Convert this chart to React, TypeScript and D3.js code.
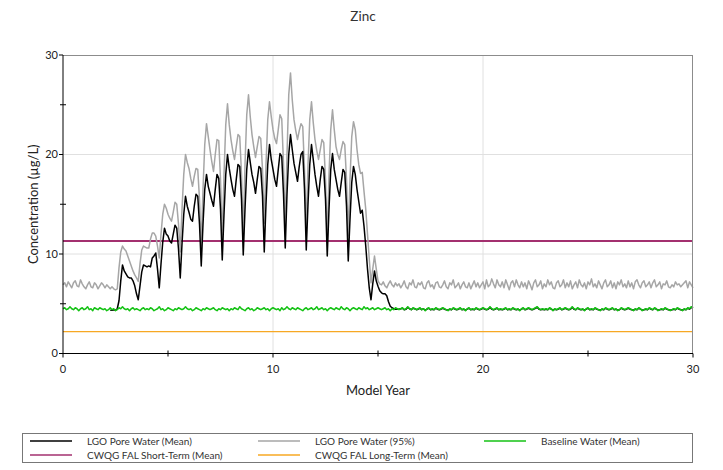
import React from 'react';
import * as d3 from 'd3';

const title = 'Zinc';
const xLabel = 'Model Year';
const yLabel = 'Concentration (µg/L)';
const xTicks = [0, 10, 20, 30];
const xMinorTicks = [5, 15, 25];
const yTicks = [0, 10, 20, 30];
const yMinorTicks = [5, 15, 25];
const monthsPerYear = 12;

// LGO Pore Water (Mean), monthly from year 0 (null = not shown)
const lgoMean: (number | null)[] = [
  null, null, null, null, null, null, null, null, null, null, null, null,
  null, null, null, null, null, null, null, null, null, null, null, null,
  null, null, null, 4.35, 4.35, 4.4, 4.35, 4.5, 5.3, 7.3, 8.9, 8.3,
  8.0, 7.7, 7.6, 7.6, 7.3, 6.8, 6.0, 5.4, 6.8, 8.2, 8.9, 8.8,
  8.7, 8.8, 8.7, 9.6, 9.8, 10.1, 8.5, 6.6, 9.0, 11.2, 12.6, 12.0,
  11.8, 11.3, 11.1, 12.0, 12.9, 12.6, 10.5, 7.6, 11.0, 14.0, 15.8, 14.8,
  14.2, 13.5, 13.3, 14.8, 16.0, 15.8, 13.0, 8.8, 13.0, 16.5, 18.0, 16.8,
  16.1, 15.4, 14.8, 16.5, 18.0, 17.6, 14.5, 9.4, 14.0, 18.0, 20.0, 18.6,
  17.5, 16.5, 15.8, 17.5, 19.0, 18.8, 15.5, 9.9, 14.5, 18.5, 20.5, 19.2,
  18.0, 17.2, 16.1, 17.5, 18.8, 18.6, 15.8, 10.2, 15.0, 19.0, 21.0, 19.5,
  18.5, 17.5, 16.8, 18.5, 20.1, 19.8, 16.0, 10.6, 16.0, 20.0, 22.0, 20.5,
  19.1, 18.2, 17.3, 18.8, 20.0, 20.3, 16.5, 10.4, 15.0, 19.0, 21.0, 19.5,
  18.0, 16.8, 15.8, 17.5, 18.8, 18.5, 15.5, 9.8, 14.5, 18.5, 20.1, 18.5,
  17.5, 16.5, 15.8, 17.2, 18.5, 18.2, 14.8, 9.3, 13.5, 17.2, 18.8, 18.0,
  16.5, 15.3, 14.1, 14.4, 12.8, 10.8, 8.5, 6.6, 5.4, 7.0, 8.3, 7.3,
  6.75, 6.3, 6.1, 6.0, 6.0, 5.8, 5.2, 4.75, 4.6, 4.5, 4.45, 4.45,
  4.45, 4.5, 4.55, 4.4, 4.45, 4.65, 4.5, 4.4, 4.55, 4.5, 4.4, 4.45,
  4.55, 4.4, 4.5, 4.35, 4.45, 4.55, 4.4, 4.45, 4.4, 4.55, 4.45, 4.4,
  4.45, 4.55, 4.45, 4.4, 4.35, 4.45, 4.4, 4.55, 4.45, 4.4, 4.45, 4.55,
  4.4, 4.45, 4.35, 4.45, 4.55, 4.4, 4.45, 4.4, 4.55, 4.45, 4.4, 4.45,
  4.55, 4.45, 4.4, 4.45, 4.65, 4.45, 4.4, 4.45, 4.55, 4.4, 4.45, 4.4,
  4.45, 4.55, 4.4, 4.45, 4.4, 4.55, 4.45, 4.4, 4.45, 4.35, 4.45, 4.55,
  4.4, 4.45, 4.55, 4.45, 4.4, 4.45, 4.55, 4.65, 4.45, 4.4, 4.45, 4.4,
  4.45, 4.4, 4.55, 4.45, 4.35, 4.45, 4.4, 4.45, 4.55, 4.4, 4.45, 4.55,
  4.45, 4.4, 4.45, 4.65, 4.45, 4.4, 4.55, 4.45, 4.4, 4.45, 4.35, 4.45,
  4.55, 4.4, 4.45, 4.4, 4.55, 4.45, 4.4, 4.35, 4.45, 4.4, 4.55, 4.45,
  4.4, 4.45, 4.55, 4.4, 4.45, 4.35, 4.4, 4.55, 4.45, 4.4, 4.45, 4.55,
  4.45, 4.4, 4.35, 4.45, 4.4, 4.55, 4.45, 4.35, 4.4, 4.45, 4.4, 4.55,
  4.45, 4.4, 4.55, 4.45, 4.35, 4.4, 4.45, 4.4, 4.55, 4.45, 4.4, 4.35,
  4.4, 4.45, 4.4, 4.55, 4.45, 4.4, 4.35, 4.45, 4.4, 4.55, 4.45, 4.65,
  4.55,
];

// LGO Pore Water (95%), monthly from year 0
const lgo95: number[] = [
  6.9, 7.1, 6.7, 7.2, 6.9, 6.6, 7.1, 7.3, 6.8, 6.7, 7.4, 7.0,
  6.7, 6.5, 6.9, 7.2, 6.7, 6.6, 7.1, 6.9, 6.5, 6.8, 7.1, 6.9,
  6.6, 6.9, 6.7, 6.5, 6.7, 6.5, 6.4, 6.5, 8.6, 10.2, 10.8, 10.5,
  10.3, 9.8, 9.3, 8.8, 8.3, 7.9, 7.6, 7.25, 9.0, 10.4, 10.8, 10.7,
  10.6, 10.6, 11.5, 12.1, 12.1, 11.8, 10.8, 9.6, 12.0, 14.0, 15.0, 14.6,
  14.0, 13.6, 13.3, 14.2, 15.2, 15.0, 13.0, 10.2, 14.5, 18.0, 20.0, 19.2,
  18.6, 17.6, 16.8, 17.8, 18.6, 18.5, 15.5, 10.8, 16.5, 21.0, 23.1, 21.8,
  20.5, 19.3, 18.3, 20.0, 21.5, 21.4, 17.5, 11.4, 18.0, 23.0, 25.1, 23.0,
  21.5, 20.4, 19.5, 20.8, 22.0, 21.8, 18.0, 12.1, 19.0, 24.0, 26.0, 23.8,
  22.0, 20.8, 19.7, 20.8, 21.8, 21.6, 18.5, 13.1, 19.0, 23.5, 25.3, 23.8,
  22.5, 21.6, 21.1, 22.5, 24.0, 23.6, 19.0, 12.8, 20.0, 26.0, 28.2, 25.5,
  23.5, 22.4, 21.5, 22.4, 23.1, 22.8, 18.5, 12.4, 19.0, 23.5, 25.3, 23.2,
  21.5, 20.4, 19.5, 20.5, 21.5, 21.2, 17.5, 11.4, 18.0, 22.5, 24.5, 22.5,
  20.8, 20.0, 19.5, 20.5, 21.3, 21.0, 17.5, 11.8, 17.5, 21.8, 23.3, 22.5,
  20.5, 19.0, 18.1, 18.2, 16.3, 14.5, 12.0, 9.5, 7.1, 8.5, 9.8, 8.5,
  7.3, 7.0, 6.9, 7.2, 6.8, 6.6, 7.0, 7.3, 6.9, 6.7, 7.1, 6.8,
  7.0, 6.6, 6.9, 7.3, 6.7, 6.5, 7.1, 6.9, 7.4, 6.7, 6.6, 7.1,
  6.9, 7.2, 6.6, 6.5, 7.1, 7.3, 6.7, 6.9, 6.5, 7.1, 7.2, 6.7,
  6.6, 6.9, 7.3, 6.7, 6.5, 7.1, 6.9, 7.4, 6.6, 6.8, 7.1, 6.5,
  6.9, 7.2, 6.7, 6.6, 7.1, 6.5, 6.9, 7.3, 6.7, 7.1, 6.6, 6.9,
  7.2, 6.5, 7.4, 6.7, 6.9, 7.5, 7.0, 6.6, 7.4, 6.9, 6.7, 7.2,
  6.6, 7.4, 6.9, 6.4, 7.1, 7.3, 6.7, 7.4, 6.9, 6.6, 7.2, 6.7,
  7.1, 6.5, 7.3, 6.9, 6.4, 7.1, 7.4, 6.7, 6.9, 7.3, 6.5, 7.0,
  6.7, 7.4, 6.9, 7.2, 6.6, 6.5, 7.1, 7.3, 6.7, 6.9, 7.4, 6.6,
  7.1, 6.7, 7.3, 6.5, 6.9, 7.2, 6.6, 7.4, 6.9, 6.7, 7.1, 6.5,
  7.2, 6.9, 7.5, 6.7, 7.0, 6.6, 7.3, 6.9, 6.5, 7.1, 7.4, 6.7,
  6.9, 7.3, 6.6, 7.1, 6.5, 7.2, 6.9, 7.4, 6.7, 7.0, 6.6, 7.3,
  6.7, 7.1, 6.5, 7.2, 7.4, 6.9, 6.6, 7.1, 7.3, 6.7, 6.9, 7.2,
  6.6, 7.1, 7.4, 6.7, 6.9, 7.2, 6.5, 7.0, 6.9, 7.3, 6.7, 6.6,
  6.9, 6.7, 7.2, 6.9, 7.0, 6.7, 6.9, 7.1, 7.3, 6.6, 7.2, 6.9,
  6.6,
];

// Baseline Water (Mean), monthly from year 0
const baseline: number[] = [
  4.5, 4.6, 4.4, 4.5, 4.7, 4.5, 4.4, 4.6, 4.5, 4.3, 4.5, 4.6,
  4.4, 4.5, 4.7, 4.4, 4.5, 4.3, 4.6, 4.5, 4.4, 4.6, 4.5, 4.4,
  4.5, 4.3, 4.4, 4.6, 4.4, 4.5, 4.3, 4.4, 4.6, 4.5, 4.7, 4.5,
  4.4, 4.5, 4.3, 4.5, 4.6, 4.4, 4.5, 4.4, 4.3, 4.5, 4.6, 4.4,
  4.5, 4.4, 4.6, 4.5, 4.3, 4.4, 4.5, 4.7, 4.4, 4.5, 4.3, 4.4,
  4.6, 4.5, 4.4, 4.3, 4.5, 4.4, 4.6, 4.5, 4.4, 4.5, 4.7, 4.5,
  4.4, 4.5, 4.3, 4.4, 4.6, 4.5, 4.4, 4.3, 4.5, 4.4, 4.6, 4.5,
  4.4, 4.5, 4.6, 4.4, 4.3, 4.5, 4.4, 4.6, 4.5, 4.4, 4.5, 4.3,
  4.5, 4.4, 4.6, 4.5, 4.4, 4.7, 4.5, 4.4, 4.3, 4.5, 4.6, 4.4,
  4.5, 4.3, 4.4, 4.6, 4.5, 4.4, 4.5, 4.6, 4.4, 4.5, 4.3, 4.5,
  4.6, 4.5, 4.4, 4.5, 4.3, 4.6, 4.4, 4.5, 4.7, 4.5, 4.4, 4.6,
  4.5, 4.4, 4.6, 4.5, 4.4, 4.3, 4.5, 4.6, 4.4, 4.5, 4.6, 4.4,
  4.5, 4.7, 4.4, 4.5, 4.6, 4.4, 4.5, 4.3, 4.5, 4.6, 4.5, 4.4,
  4.6, 4.5, 4.4, 4.7, 4.5, 4.4, 4.6, 4.5, 4.3, 4.5, 4.6, 4.5,
  4.4, 4.6, 4.5, 4.4, 4.7, 4.5, 4.6, 4.4, 4.5, 4.6, 4.4, 4.5,
  4.6, 4.5, 4.4, 4.5, 4.6, 4.4, 4.5, 4.3, 4.5, 4.4, 4.6, 4.5,
  4.4, 4.5, 4.6, 4.4, 4.5, 4.7, 4.5, 4.4, 4.6, 4.5, 4.4, 4.5,
  4.6, 4.4, 4.5, 4.3, 4.5, 4.6, 4.4, 4.5, 4.4, 4.6, 4.5, 4.4,
  4.5, 4.6, 4.5, 4.4, 4.3, 4.5, 4.4, 4.6, 4.5, 4.4, 4.5, 4.6,
  4.4, 4.5, 4.3, 4.5, 4.6, 4.4, 4.5, 4.4, 4.6, 4.5, 4.4, 4.5,
  4.6, 4.5, 4.4, 4.5, 4.7, 4.5, 4.4, 4.5, 4.6, 4.4, 4.5, 4.4,
  4.5, 4.6, 4.4, 4.5, 4.4, 4.6, 4.5, 4.4, 4.5, 4.3, 4.5, 4.6,
  4.4, 4.5, 4.6, 4.5, 4.4, 4.5, 4.6, 4.7, 4.5, 4.4, 4.5, 4.4,
  4.5, 4.4, 4.6, 4.5, 4.3, 4.5, 4.4, 4.5, 4.6, 4.4, 4.5, 4.6,
  4.5, 4.4, 4.5, 4.7, 4.5, 4.4, 4.6, 4.5, 4.4, 4.5, 4.3, 4.5,
  4.6, 4.4, 4.5, 4.4, 4.6, 4.5, 4.4, 4.3, 4.5, 4.4, 4.6, 4.5,
  4.4, 4.5, 4.6, 4.4, 4.5, 4.3, 4.4, 4.6, 4.5, 4.4, 4.5, 4.6,
  4.5, 4.4, 4.3, 4.5, 4.4, 4.6, 4.5, 4.3, 4.4, 4.5, 4.4, 4.6,
  4.5, 4.4, 4.6, 4.5, 4.3, 4.4, 4.5, 4.4, 4.6, 4.5, 4.4, 4.3,
  4.4, 4.5, 4.4, 4.6, 4.5, 4.4, 4.3, 4.5, 4.4, 4.6, 4.5, 4.7,
  4.6,
];

const shortTermGuideline = 11.3;
const longTermGuideline = 2.2;

const legendLabels = [
  'LGO Pore Water (Mean)',
  'LGO Pore Water (95%)',
  'Baseline Water (Mean)',
  'CWQG FAL Short-Term (Mean)',
  'CWQG FAL Long-Term (Mean)',
];
const seriesColors = ['#000000', '#a6a6a6', '#14c214', '#a3306f', '#f7a823'];

const W = 723;
const H = 470;
const FONT = 'Lato, "Open Sans", sans-serif';

type Pt = [number, number | null];

export default function App() {
  const m = { left: 63, right: 30, top: 55, bottom: 116.5 };
  const x = d3.scaleLinear().domain([0, 30]).range([m.left, W - m.right]);
  const y = d3.scaleLinear().domain([0, 30]).range([H - m.bottom, m.top]);

  const toPts = (arr: (number | null)[]): Pt[] => arr.map((v, i) => [i / monthsPerYear, v]);
  const line = d3
    .line<Pt>()
    .defined((d) => d[1] != null)
    .x((d) => x(d[0]))
    .y((d) => y(d[1] as number));

  const [x0, x1] = x.range();
  const [yb, yt] = y.range();

  const legendCols = [30, 258, 484];
  const legendRows = [441, 455];

  return (
    <svg width={W} height={H} style={{ position: 'absolute', left: 0, top: 0, background: '#fff' }} fontFamily={FONT}>
      <rect x={0} y={0} width={W} height={H} fill="#fff" />
      <text x={363} y={21} textAnchor="middle" fontSize={13.5} fill="#333">{title}</text>

      {[10, 20].map((v) => (
        <line key={'gx' + v} x1={x(v)} x2={x(v)} y1={yt} y2={yb} stroke="#e0e0e0" strokeWidth={1} />
      ))}
      {[10, 20].map((v) => (
        <line key={'gy' + v} x1={x0} x2={x1} y1={y(v)} y2={y(v)} stroke="#e0e0e0" strokeWidth={1} />
      ))}

      <line x1={x(0)} x2={x(30)} y1={y(shortTermGuideline)} y2={y(shortTermGuideline)} stroke={seriesColors[3]} strokeWidth={2} />
      <line x1={x(0)} x2={x(30)} y1={y(longTermGuideline)} y2={y(longTermGuideline)} stroke={seriesColors[4]} strokeWidth={1.4} />

      <path d={line(toPts(lgo95)) || ''} fill="none" stroke={seriesColors[1]} strokeWidth={1.5} strokeLinejoin="round" />
      <path d={line(toPts(lgoMean)) || ''} fill="none" stroke={seriesColors[0]} strokeWidth={1.5} strokeLinejoin="round" />
      <path d={line(toPts(baseline)) || ''} fill="none" stroke={seriesColors[2]} strokeWidth={1.5} strokeLinejoin="round" />

      <line x1={x0} x2={x1} y1={yt + 0.5} y2={yt + 0.5} stroke="#8c8c8c" strokeWidth={1} />
      <line x1={x1 - 0.5} x2={x1 - 0.5} y1={yt} y2={yb} stroke="#8c8c8c" strokeWidth={1} />
      <line x1={x0} x2={x0} y1={yt} y2={yb} stroke="#000" strokeWidth={1} />
      <line x1={x0} x2={x1} y1={yb} y2={yb} stroke="#000" strokeWidth={1} />

      {yTicks.map((v) => (
        <g key={'yt' + v}>
          <line x1={x0 - 4} x2={x0} y1={y(v)} y2={y(v)} stroke="#000" />
          <text x={x0 - 5} y={y(v)} dy="0.35em" textAnchor="end" fontSize={11} fill="#222">{v}</text>
        </g>
      ))}
      {yMinorTicks.map((v) => (
        <line key={'ym' + v} x1={x0 - 3} x2={x0 + 3} y1={y(v)} y2={y(v)} stroke="#000" />
      ))}
      {xTicks.map((v) => (
        <g key={'xt' + v}>
          <line x1={x(v)} x2={x(v)} y1={yb} y2={yb + 4} stroke="#000" />
          <text x={x(v)} y={yb + 19} textAnchor="middle" fontSize={11} fill="#222">{v}</text>
        </g>
      ))}
      {xMinorTicks.map((v) => (
        <line key={'xm' + v} x1={x(v)} x2={x(v)} y1={yb - 3} y2={yb + 3} stroke="#000" />
      ))}

      <text x={378} y={395} textAnchor="middle" fontSize={13} fill="#222">{xLabel}</text>
      <text transform={`translate(38, ${(yt + yb) / 2}) rotate(-90)`} textAnchor="middle" fontSize={13} fill="#222">{yLabel}</text>

      <rect x={22.5} y={433.5} width={670} height={29} fill="#fff" stroke="#777" strokeWidth={1} />
      {legendLabels.map((lab, i) => {
        const col = i % 3;
        const row = Math.floor(i / 3);
        const lx = legendCols[col];
        const ly = legendRows[row];
        return (
          <g key={lab}>
            <line x1={lx} x2={lx + 42} y1={ly} y2={ly} stroke={seriesColors[i]} strokeWidth={1.5} />
            <text x={lx + 57} y={ly} dy="0.35em" fontSize={10} fill="#333">{lab}</text>
          </g>
        );
      })}
    </svg>
  );
}
